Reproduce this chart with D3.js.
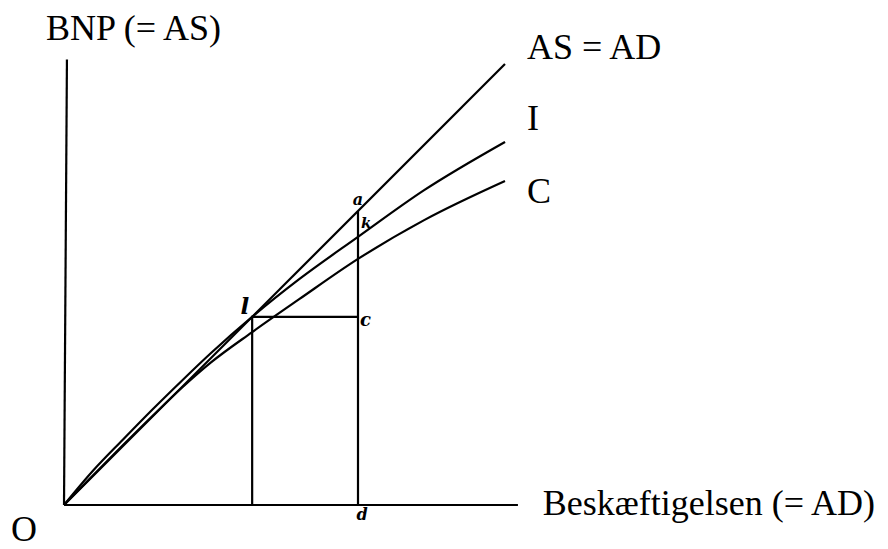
<!DOCTYPE html>
<html>
<head>
<meta charset="utf-8">
<script src="https://cdn.jsdelivr.net/npm/d3@7"></script>
<style>
  html, body { margin: 0; padding: 0; background: #fff; }
  svg { display: block; }
</style>
</head>
<body>
<svg id="chart" width="888" height="549"></svg>
<script>
// ---- data (abstract units: employment on x, BNP on y) ----
const asX = [0, 15];
const asY = [0, 15];
const iX = [0, 1, 2, 3, 4, 5, 6.4, 8, 10, 12.25, 15];
const iY = [0, 1.18, 2.22, 3.24, 4.22, 5.17, 6.4, 7.68, 9.12, 10.71, 12.35];
const cX = [0, 1, 2, 3, 4, 5, 6.4, 8, 10, 12.25, 15];
const cY = [0, 1.02, 2.03, 3.02, 3.98, 4.85, 5.88, 7.0, 8.37, 9.69, 11.02];
const lPoint = [6.4, 6.4];   // point l (intersection of AS and I)
const dX = 10;               // employment level d
const xAxisEnd = 15.44;
const yAxisTop = 15.15;
const seriesLabels = ["AS = AD", "I", "C"];
const axisLabels = ["BNP (= AS)", "Beskæftigelsen (= AD)", "O"];
const pointLabels = ["a", "k", "l", "c", "d"];

const svg = d3.select("#chart");
const x = d3.scaleLinear().domain([0, 15]).range([64, 505]);
const y = d3.scaleLinear().domain([0, 15]).range([505, 64]);

const ink = "#000";
const sw = 2.2;
const line = d3.line().x(d => x(d[0])).y(d => y(d[1])).curve(d3.curveMonotoneX);
const straight = d3.line().x(d => x(d[0])).y(d => y(d[1]));

// axes
svg.append("path").attr("d", straight([[0, 0], [0.1, yAxisTop]]))
  .attr("stroke", ink).attr("stroke-width", sw).attr("fill", "none");
svg.append("path").attr("d", straight([[0, 0], [xAxisEnd, 0]]))
  .attr("stroke", ink).attr("stroke-width", sw).attr("fill", "none");

// curves
const series = [
  asX.map((v, i) => [v, asY[i]]),
  iX.map((v, i) => [v, iY[i]]),
  cX.map((v, i) => [v, cY[i]])
];
series.forEach(s => {
  svg.append("path").attr("d", line(s))
    .attr("stroke", ink).attr("stroke-width", sw).attr("fill", "none")
    .attr("stroke-linejoin", "round");
});

// construction lines
svg.append("path").attr("d", straight([[lPoint[0], 0], lPoint, [dX, lPoint[1]]]))
  .attr("stroke", ink).attr("stroke-width", sw).attr("fill", "none");
svg.append("path").attr("d", straight([[dX, 0], [dX, dX]]))
  .attr("stroke", ink).attr("stroke-width", sw).attr("fill", "none");

// printed labels
const serif = "'Liberation Serif', 'Times New Roman', serif";
const lblBaselines = [59, 130, 203];
seriesLabels.forEach((t, i) => {
  svg.append("text").attr("x", 527).attr("y", lblBaselines[i])
    .attr("font-family", serif).attr("font-size", 36).attr("fill", ink).text(t);
});
svg.append("text").attr("x", 46).attr("y", 40)
  .attr("font-family", serif).attr("font-size", 36).attr("fill", ink).text(axisLabels[0]);
svg.append("text").attr("x", 875).attr("y", 515).attr("text-anchor", "end")
  .attr("font-family", serif).attr("font-size", 36).attr("fill", ink).text(axisLabels[1]);
svg.append("text").attr("x", 11).attr("y", 541)
  .attr("font-family", serif).attr("font-size", 36).attr("fill", ink).text(axisLabels[2]);

// handwritten point letters
const hand = "'DejaVu Serif', serif";
const pts = [
  { t: pointLabels[0], px: x(dX), py: y(dX), dx: 0, dy: -6, anchor: "middle", size: 16 },
  { t: pointLabels[1], px: x(dX), py: y(iY[8]), dx: 3, dy: -9, anchor: "start", size: 15 },
  { t: pointLabels[2], px: x(lPoint[0]), py: y(lPoint[1]), dx: -3, dy: -3, anchor: "end", size: 23 },
  { t: pointLabels[3], px: x(dX), py: y(lPoint[1]), dx: 2, dy: 9, anchor: "start", size: 18 },
  { t: pointLabels[4], px: x(dX), py: y(0), dx: 4, dy: 15, anchor: "middle", size: 16 }
];
pts.forEach(p => {
  svg.append("text").attr("x", p.px + p.dx).attr("y", p.py + p.dy)
    .attr("text-anchor", p.anchor)
    .attr("font-family", hand).attr("font-style", "italic").attr("font-weight", "bold")
    .attr("font-size", p.size).attr("fill", ink).text(p.t);
});
</script>
</body>
</html>
